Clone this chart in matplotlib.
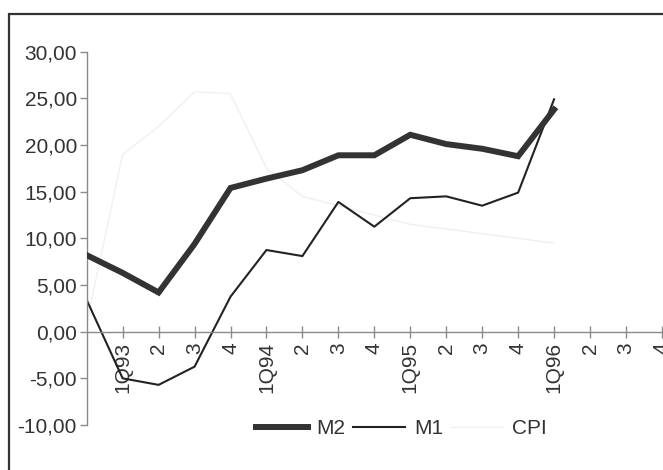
import matplotlib.pyplot as plt
from matplotlib.patches import Rectangle
from matplotlib.ticker import FuncFormatter

plt.rcParams['font.family'] = ['Liberation Sans Narrow', 'Liberation Sans', 'DejaVu Sans']

# quarterly growth rates, 4Q92 .. 1Q96
quarters = list(range(14))
m2 = [8.2, 6.3, 4.2, 9.4, 15.4, 16.4, 17.3, 18.9, 18.9, 21.1, 20.1, 19.6, 18.8, 23.8]
m1 = [3.4, -5.0, -5.7, -3.75, 3.75, 8.75, 8.1, 13.9, 11.25, 14.3, 14.5, 13.5, 14.9, 24.9]
cpi = [1.0, 19.0, 22.0, 25.7, 25.5, 17.5, 14.5, 13.5, 12.5, 11.5, 11.0, 10.5, 10.0, 9.5]

tick_pos = list(range(1, 17))
tick_labels = ['1Q93', '2', '3', '4', '1Q94', '2', '3', '4',
               '1Q95', '2', '3', '4', '1Q96', '2', '3', '4']

W, H = 663, 470
FS = 15
fig = plt.figure(figsize=(W / 100, H / 100), dpi=100)
fig.patch.set_facecolor('white')

# outer frame, running off the right and bottom edges
fig.patches.append(Rectangle((9 / W, -0.01), 1.02, 1 - 14 / H + 0.01,
                             transform=fig.transFigure, fill=False,
                             edgecolor='#333333', linewidth=1.6))

ax = fig.add_axes([86.7 / W, 45 / H, 1 - 86.7 / W, (425 - 51.7) / H])
ax.set_facecolor('none')

ax.plot(quarters, cpi, color='#f0f0f0', linewidth=1.0, label='CPI', zorder=1)
ax.plot(quarters, m2, color='#333333', linewidth=4.3, label='M2',
        solid_joinstyle='miter', zorder=3)
ax.plot(quarters, m1, color='#222222', linewidth=1.5, label='M1', zorder=2)

ax.set_xlim(0, 16.03)
ax.set_ylim(-10, 30)

for s in ['top', 'right']:
    ax.spines[s].set_visible(False)
ax.spines['bottom'].set_position(('data', 0))
ax.spines['left'].set_bounds(-10, 30)
for s in ['left', 'bottom']:
    ax.spines[s].set_color('#8a8a8a')
    ax.spines[s].set_linewidth(1.0)

ax.set_yticks(range(-10, 31, 5))
ax.yaxis.set_major_formatter(FuncFormatter(lambda v, p: f'{v:.2f}'.replace('.', ',')))
ax.tick_params(axis='y', direction='out', length=5, width=1, color='#8a8a8a',
               labelsize=FS, labelcolor='#333333', pad=2)

ax.set_xticks(tick_pos)
ax.set_xticklabels(tick_labels, rotation=90)
ax.tick_params(axis='x', direction='inout', length=9, width=1, color='#8a8a8a',
               labelsize=FS, labelcolor='#333333', pad=3)

handles, labels = ax.get_legend_handles_labels()
order = [1, 2, 0]
ax.legend([handles[i] for i in order], [labels[i] for i in order],
          loc='center', bbox_to_anchor=(401 / W, 1 - 429 / H),
          bbox_transform=fig.transFigure, ncol=3, frameon=False,
          fontsize=FS, handlelength=2.5, handletextpad=0.4,
          columnspacing=0.4, labelcolor='#333333')

fig.savefig('out.png', dpi=100)
